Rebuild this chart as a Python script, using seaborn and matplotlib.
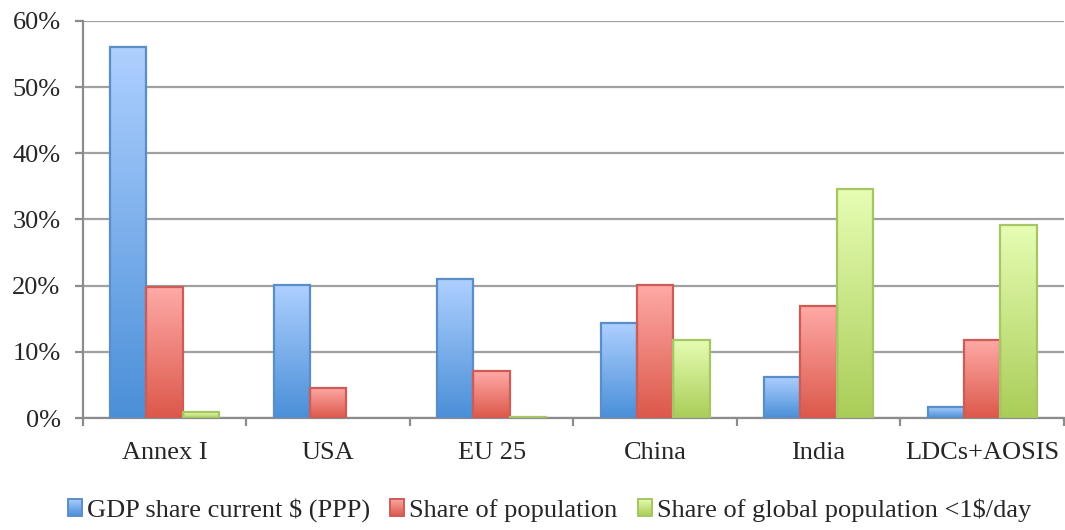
import numpy as np
import pandas as pd
import matplotlib
matplotlib.use("Agg")
import matplotlib.pyplot as plt
from matplotlib.colors import LinearSegmentedColormap
from matplotlib.patches import Patch
from matplotlib.ticker import PercentFormatter, FixedLocator
import seaborn as sns

# Regions and their shares (percent)
regions = ["Annex I", "USA", "EU 25", "China", "India", "LDCs+AOSIS"]
gdp_share = [56.1, 20.1, 21.0, 14.4, 6.2, 1.7]
pop_share = [19.8, 4.6, 7.1, 20.1, 17.0, 11.8]
poor_share = [0.9, 0.0, 0.15, 11.8, 34.6, 29.1]
series_names = ["GDP share current $ (PPP)", "Share of population",
                "Share of global population <1$/day"]

df = pd.DataFrame({
    "region": regions * 3,
    "series": np.repeat(series_names, len(regions)),
    "value": gdp_share + pop_share + poor_share,
})

# gradient (top colour, bottom colour) and outline per series
grad = {
    series_names[0]: ("#aed0ff", "#4a8fd8"),
    series_names[1]: ("#ffaaa7", "#dc584a"),
    series_names[2]: ("#e6fdb3", "#aacd58"),
}
edges = {
    series_names[0]: "#5a8ecb",
    series_names[1]: "#cc5c55",
    series_names[2]: "#a6c564",
}

sns.set_style("white")
plt.rcParams["font.family"] = ["Liberation Serif", "DejaVu Serif"]

fig = plt.figure(figsize=(10.65, 5.3), dpi=100)
ax = fig.add_axes([0.0777, 0.2113, 0.9213, 0.7491])

sns.barplot(data=df, x="region", y="value", hue="series", order=regions,
            hue_order=series_names, width=2 / 3, gap=0, ax=ax,
            legend=False, errorbar=None, linewidth=1.6, zorder=3)


def gradient_fill(target_ax, patch, top, bot, x0, x1, y0, y1, z):
    cmap = LinearSegmentedColormap.from_list("g", [bot, top])
    img = target_ax.imshow(np.linspace(0, 1, 256).reshape(-1, 1), cmap=cmap,
                           origin="lower", aspect="auto",
                           extent=[x0, x1, y0, y1], zorder=z)
    img.set_clip_path(patch)
    return img


# paint every bar with a vertical gradient clipped to its outline
for name, cont in zip(series_names, ax.containers):
    top, bot = grad[name]
    for bar in cont:
        h = bar.get_height()
        bar.set_edgecolor(edges[name])
        if h <= 0:
            bar.set_visible(False)
            continue
        x0 = bar.get_x()
        w = bar.get_width()
        gradient_fill(ax, bar, top, bot, x0, x0 + w, 0, h, 2.9)
        bar.set_facecolor("none")

ax.set_xlim(-0.5, len(regions) - 0.5)
ax.set_ylim(0, 60)
ax.yaxis.set_major_locator(FixedLocator(np.arange(0, 61, 10)))
ax.yaxis.set_major_formatter(PercentFormatter(decimals=0))
ax.grid(axis="y", color="#a0a0a0", linewidth=1.6, zorder=0)
ax.set_axisbelow(True)
ax.set_xlabel("")
ax.set_ylabel("")

for s in ["top", "right"]:
    ax.spines[s].set_visible(False)
for s in ["left", "bottom"]:
    ax.spines[s].set_color("#8c8c8c")
    ax.spines[s].set_linewidth(1.6)

ax.tick_params(axis="y", which="major", length=6, width=1.6, color="#8c8c8c",
               direction="out", labelsize=19, pad=10, left=True)
ax.tick_params(axis="x", which="major", length=0, labelsize=19, pad=17)
ax.set_xticks(np.arange(-0.5, len(regions) - 0.4, 1.0), minor=True)
ax.tick_params(axis="x", which="minor", length=6, width=1.6, color="#8c8c8c",
               direction="out", bottom=True)

handles = [Patch(facecolor=grad[n][1], edgecolor=edges[n], linewidth=1.2, label=n)
           for n in series_names]
leg = fig.legend(handles=handles, loc="center", bbox_to_anchor=(0.516, 0.037),
                 ncol=3, frameon=False, fontsize=19, handlelength=0.53,
                 handleheight=0.62, handletextpad=0.2, columnspacing=0.75,
                 borderpad=0)

# gradient swatches in the legend, matching the bars
fig.canvas.draw()
for name, h in zip(series_names, leg.legend_handles):
    bb = h.get_window_extent()
    h.set_facecolor("none")
    h.set_zorder(5)
    sw = fig.add_axes([bb.x0 / fig.bbox.width, bb.y0 / fig.bbox.height,
                       bb.width / fig.bbox.width, bb.height / fig.bbox.height])
    sw.set_axis_off()
    top, bot = grad[name]
    cmap = LinearSegmentedColormap.from_list("s", [bot, top])
    sw.imshow(np.linspace(0, 1, 64).reshape(-1, 1), cmap=cmap, origin="lower",
              aspect="auto", extent=[0, 1, 0, 1])
    sw.set_xlim(0, 1)
    sw.set_ylim(0, 1)
    sw.patch.set_visible(False)
    border = plt.Rectangle((0, 0), 1, 1, transform=sw.transAxes, fill=False,
                           edgecolor=edges[name], linewidth=1.2, clip_on=False)
    sw.add_patch(border)

fig.savefig("out.png", dpi=100)
